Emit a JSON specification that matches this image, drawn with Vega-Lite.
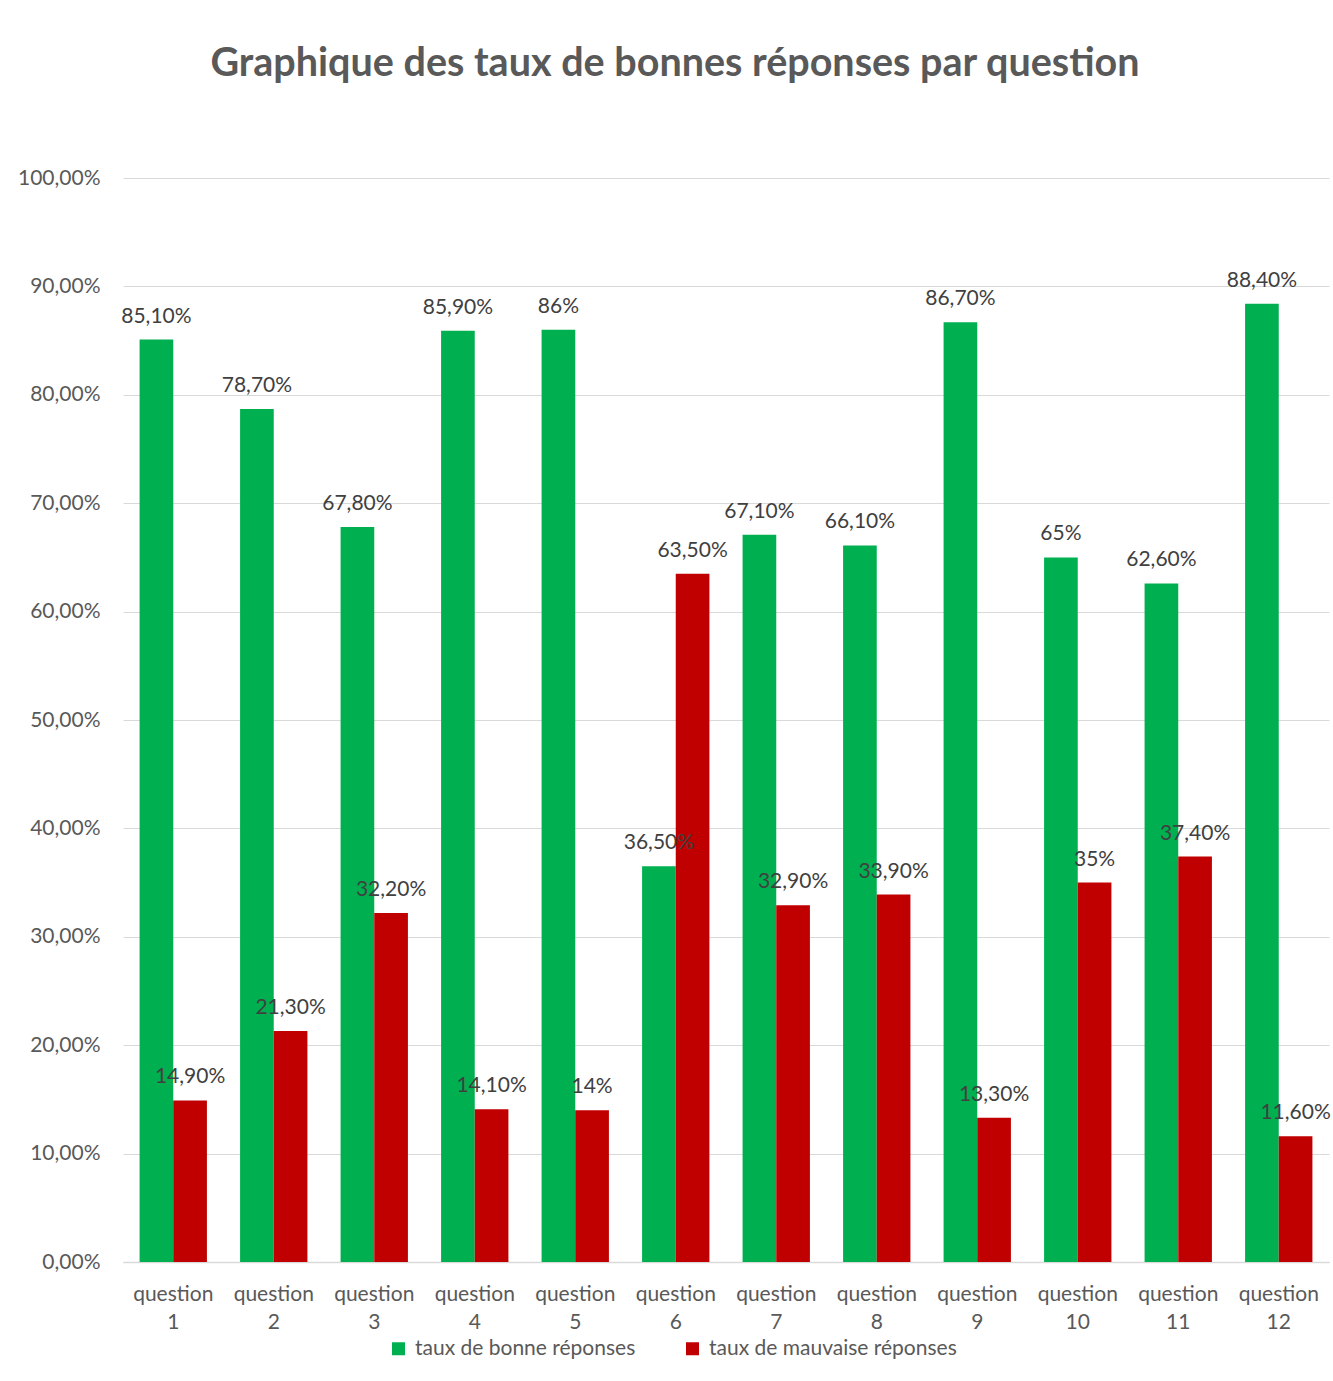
{
  "$schema": "https://vega.github.io/schema/vega-lite/v6.json",
  "width": 1206,
  "height": 1084,
  "autosize": "none",
  "padding": {"left": 123, "top": 178, "right": 4, "bottom": 119},
  "background": "white",
  "config": {
    "locale": {"number": {"decimal": ",", "thousands": " ", "grouping": [3], "currency": ["", " €"]}},
    "font": "Lato",
    "view": {"stroke": null}
  },
  "title": {
    "text": "Graphique des taux de bonnes réponses par question",
    "font": "Lato",
    "fontSize": 39.5,
    "fontWeight": "bold",
    "color": "#595959",
    "anchor": "middle",
    "frame": "group",
    "dx": -51,
    "baseline": "alphabetic",
    "offset": 52
  },
  "data": {
    "values": [
      {"question": "question 1", "serie": "taux de bonne réponses", "v": 0.851},
      {"question": "question 1", "serie": "taux de mauvaise réponses", "v": 0.149},
      {"question": "question 2", "serie": "taux de bonne réponses", "v": 0.787},
      {"question": "question 2", "serie": "taux de mauvaise réponses", "v": 0.213},
      {"question": "question 3", "serie": "taux de bonne réponses", "v": 0.678},
      {"question": "question 3", "serie": "taux de mauvaise réponses", "v": 0.322},
      {"question": "question 4", "serie": "taux de bonne réponses", "v": 0.859},
      {"question": "question 4", "serie": "taux de mauvaise réponses", "v": 0.141},
      {"question": "question 5", "serie": "taux de bonne réponses", "v": 0.86},
      {"question": "question 5", "serie": "taux de mauvaise réponses", "v": 0.14},
      {"question": "question 6", "serie": "taux de bonne réponses", "v": 0.365},
      {"question": "question 6", "serie": "taux de mauvaise réponses", "v": 0.635},
      {"question": "question 7", "serie": "taux de bonne réponses", "v": 0.671},
      {"question": "question 7", "serie": "taux de mauvaise réponses", "v": 0.329},
      {"question": "question 8", "serie": "taux de bonne réponses", "v": 0.661},
      {"question": "question 8", "serie": "taux de mauvaise réponses", "v": 0.339},
      {"question": "question 9", "serie": "taux de bonne réponses", "v": 0.867},
      {"question": "question 9", "serie": "taux de mauvaise réponses", "v": 0.133},
      {"question": "question 10", "serie": "taux de bonne réponses", "v": 0.65},
      {"question": "question 10", "serie": "taux de mauvaise réponses", "v": 0.35},
      {"question": "question 11", "serie": "taux de bonne réponses", "v": 0.626},
      {"question": "question 11", "serie": "taux de mauvaise réponses", "v": 0.374},
      {"question": "question 12", "serie": "taux de bonne réponses", "v": 0.884},
      {"question": "question 12", "serie": "taux de mauvaise réponses", "v": 0.116}
    ]
  },
  "transform": [
    {"calculate": "replace(format(datum.v, '.2%'), ',00%', '%')", "as": "lbl"}
  ],
  "encoding": {
    "x": {
      "field": "question",
      "type": "nominal",
      "sort": null,
      "scale": {"paddingInner": 0.33, "paddingOuter": 0.165},
      "axis": {
        "title": null,
        "labelAngle": 0,
        "labelExpr": "split(datum.label, ' ')",
        "labelFont": "Lato",
        "labelFontSize": 21,
        "labelColor": "#595959",
        "labelLineHeight": 28,
        "labelPadding": 32,
        "labelBaseline": "middle",
        "ticks": false,
        "domainColor": "#d9d9d9",
        "domainWidth": 1.5,
        "grid": false
      }
    },
    "xOffset": {"field": "serie", "type": "nominal", "sort": ["taux de bonne réponses", "taux de mauvaise réponses"]},
    "y": {
      "field": "v",
      "type": "quantitative",
      "scale": {"domain": [0, 1], "nice": false},
      "axis": {
        "title": null,
        "format": ".2%",
        "values": [0, 0.1, 0.2, 0.3, 0.4, 0.5, 0.6, 0.7, 0.8, 0.9, 1],
        "labelFont": "Lato",
        "labelFontSize": 21,
        "labelColor": "#595959",
        "labelPadding": 23,
        "ticks": false,
        "domain": false,
        "gridColor": "#d9d9d9",
        "gridWidth": 1.2
      }
    }
  },
  "layer": [
    {
      "mark": {"type": "bar"},
      "encoding": {
        "color": {
          "field": "serie",
          "type": "nominal",
          "sort": ["taux de bonne réponses", "taux de mauvaise réponses"],
          "scale": {"domain": ["taux de bonne réponses", "taux de mauvaise réponses"], "range": ["#00B050", "#C00000"]},
          "legend": {
            "title": null,
            "orient": "none",
            "direction": "horizontal",
            "legendX": 265,
            "legendY": 1160,
            "symbolType": "square",
            "symbolSize": 169,
            "symbolStrokeWidth": 0,
            "labelFont": "Lato",
            "labelFontSize": 21,
            "labelColor": "#595959",
            "labelOffset": 6,
            "labelLimit": 0,
            "columnPadding": 46
          }
        }
      }
    },
    {
      "mark": {"type": "text", "baseline": "alphabetic", "dy": -17, "font": "Lato", "fontSize": 21, "color": "#404040"},
      "encoding": {
        "text": {"field": "lbl"}
      }
    }
  ]
}
